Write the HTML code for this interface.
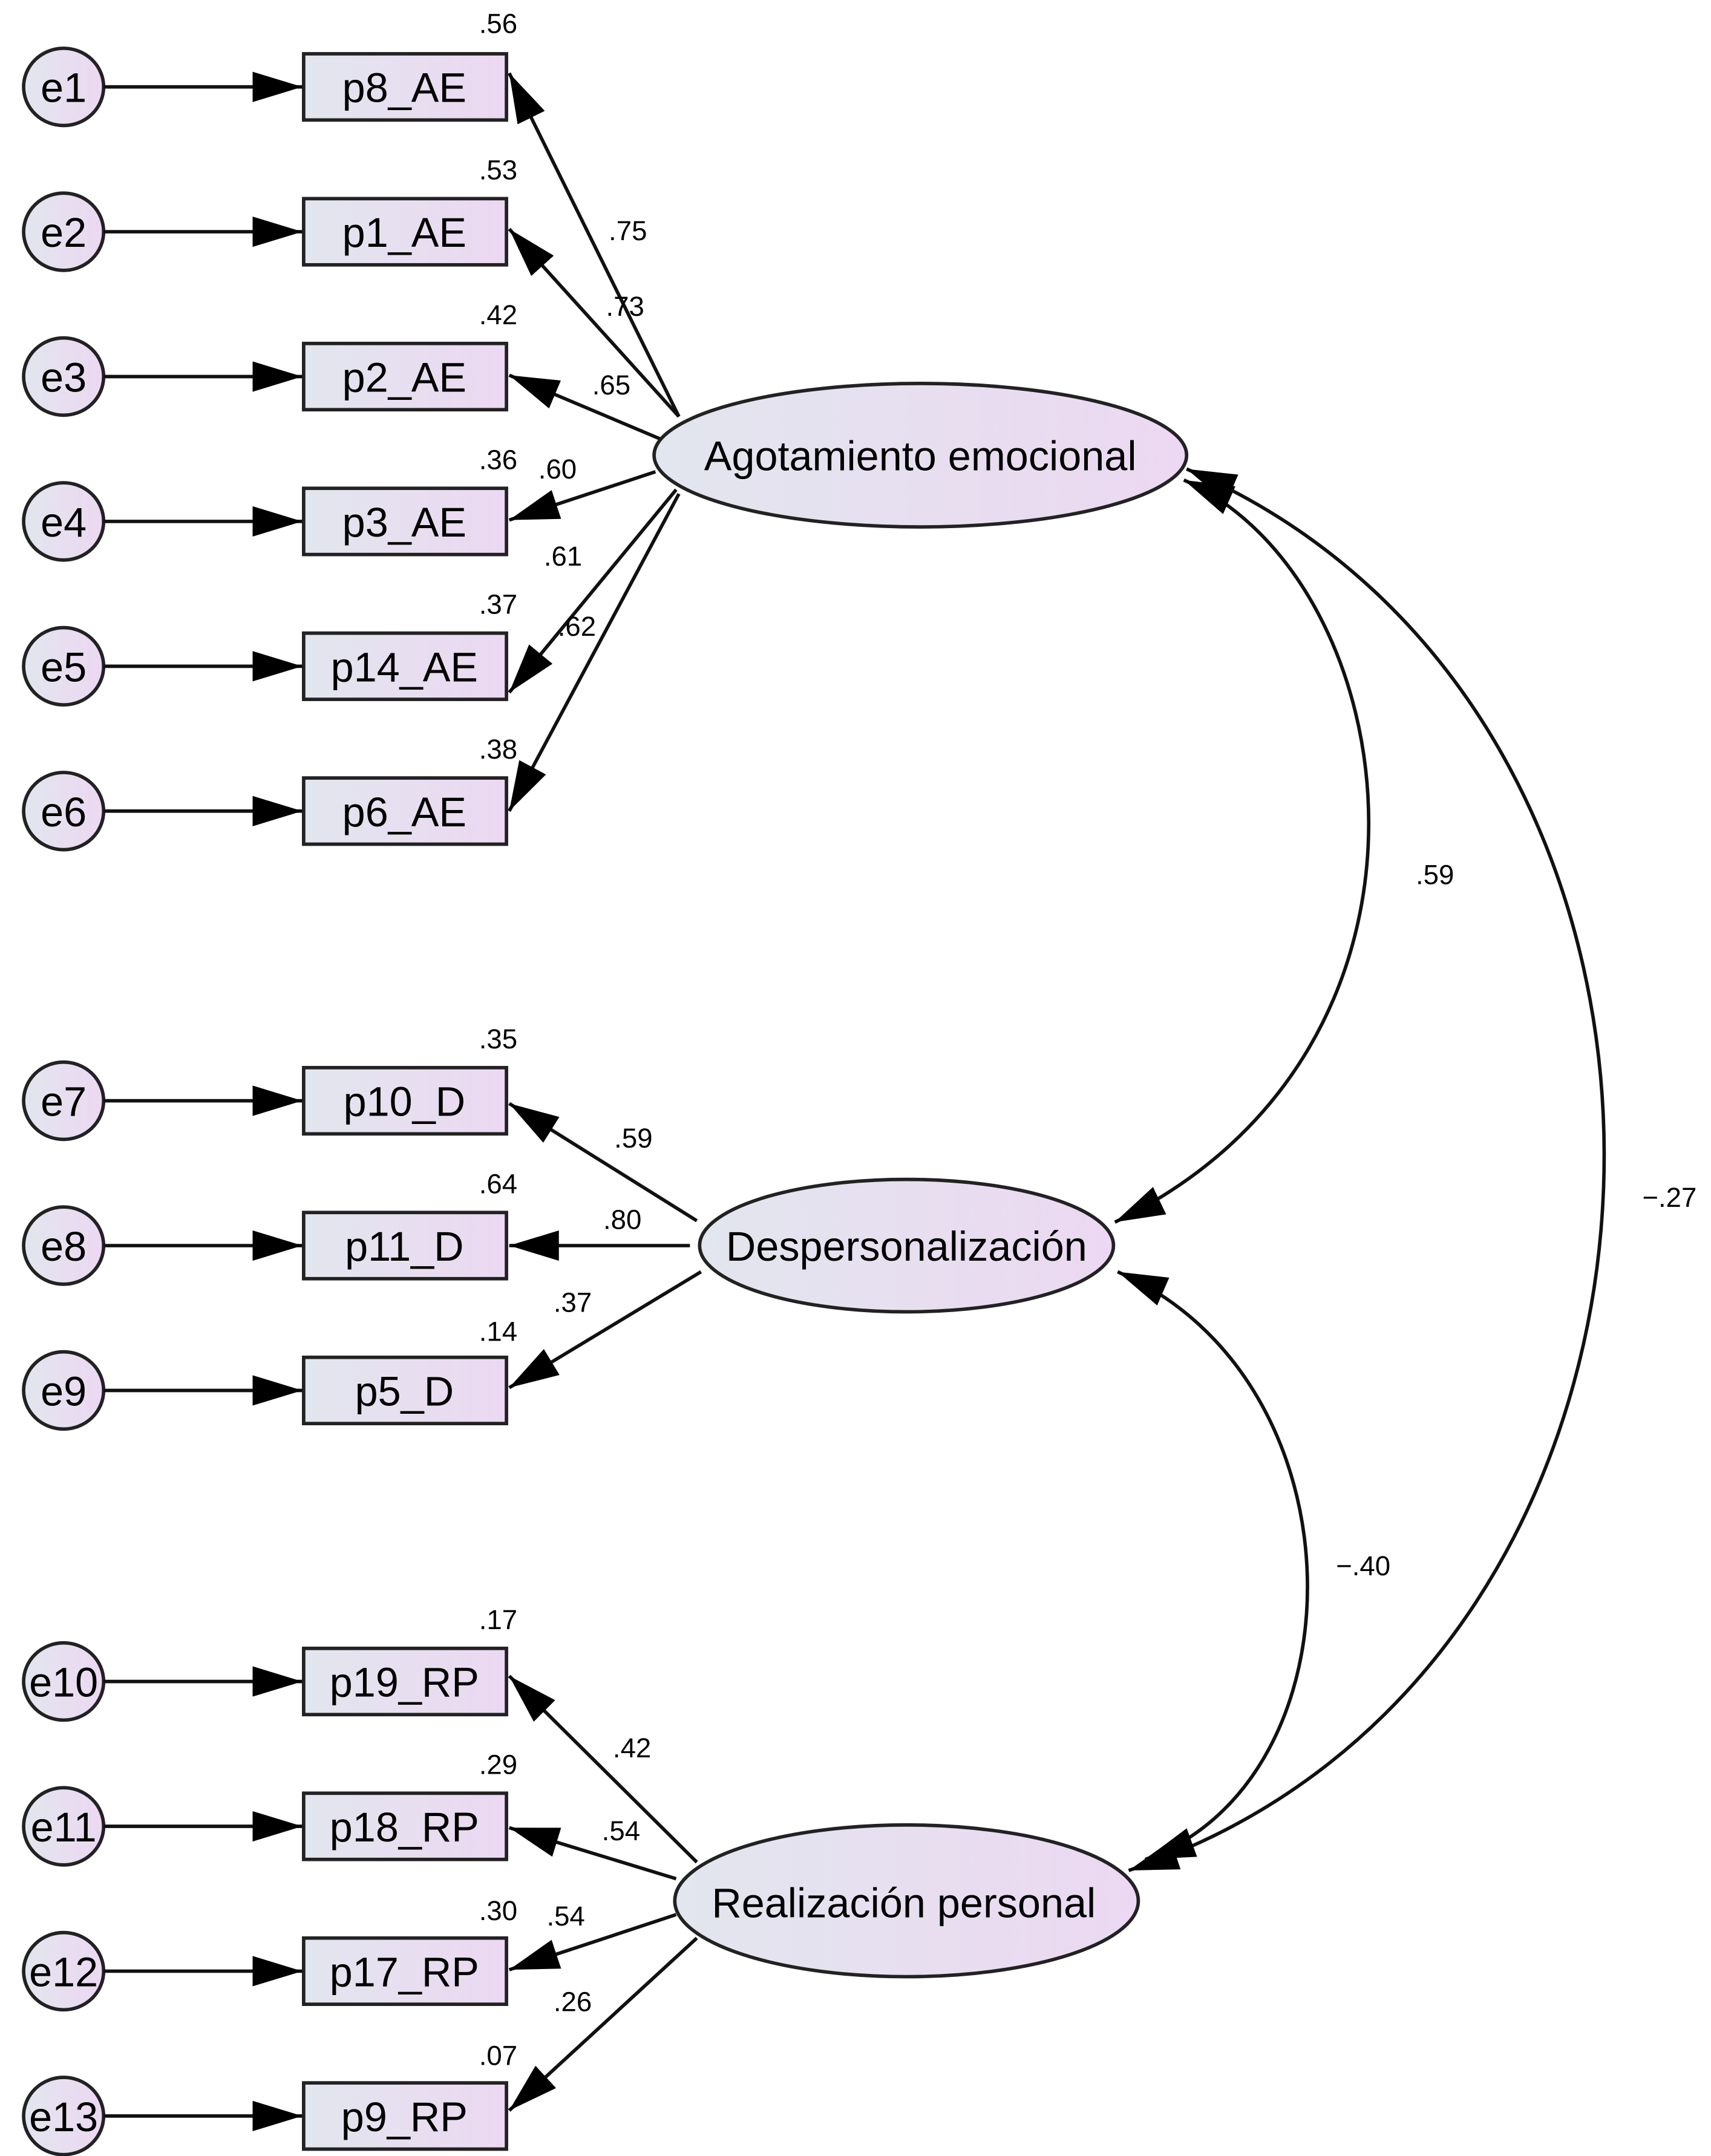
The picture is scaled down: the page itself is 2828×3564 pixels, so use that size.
<!DOCTYPE html>
<html><head><meta charset="utf-8"><style>html,body{margin:0;padding:0;background:#fff}svg{display:block}</style></head><body>
<svg xmlns="http://www.w3.org/2000/svg" width="2828" height="3564" viewBox="0 0 1240 1563">
<defs>
<linearGradient id="g" x1="0" x2="1" y1="0" y2="0"><stop offset="0" stop-color="#e2e6ee"/><stop offset="1" stop-color="#ecd8f2"/></linearGradient>
<marker id="a" markerUnits="userSpaceOnUse" markerWidth="40" markerHeight="26" refX="36" refY="11" orient="auto"><path d="M0,0 L36,11 L0,22 Z" fill="#000"/></marker>
<marker id="s" markerUnits="userSpaceOnUse" markerWidth="40" markerHeight="26" refX="0" refY="11" orient="auto"><path d="M36,0 L0,11 L36,22 Z" fill="#000"/></marker>
</defs>
<g font-family="Liberation Sans, sans-serif" fill="#000">
<g stroke="#222" stroke-width="2.5" fill="url(#g)">
<ellipse cx="46" cy="63" rx="29" ry="28"/><ellipse cx="46" cy="168" rx="29" ry="28"/><ellipse cx="46" cy="273" rx="29" ry="28"/><ellipse cx="46" cy="378" rx="29" ry="28"/><ellipse cx="46" cy="483" rx="29" ry="28"/><ellipse cx="46" cy="588" rx="29" ry="28"/>
<ellipse cx="46" cy="798" rx="29" ry="28"/><ellipse cx="46" cy="903" rx="29" ry="28"/><ellipse cx="46" cy="1008" rx="29" ry="28"/>
<ellipse cx="46" cy="1219" rx="29" ry="28"/><ellipse cx="46" cy="1324" rx="29" ry="28"/><ellipse cx="46" cy="1429" rx="29" ry="28"/><ellipse cx="46" cy="1534" rx="29" ry="28"/>
<rect x="220" y="39" width="147" height="48"/><rect x="220" y="144" width="147" height="48"/><rect x="220" y="249" width="147" height="48"/><rect x="220" y="354" width="147" height="48"/><rect x="220" y="459" width="147" height="48"/><rect x="220" y="564" width="147" height="48"/>
<rect x="220" y="774" width="147" height="48"/><rect x="220" y="879" width="147" height="48"/><rect x="220" y="984" width="147" height="48"/>
<rect x="220" y="1195" width="147" height="48"/><rect x="220" y="1300" width="147" height="48"/><rect x="220" y="1405" width="147" height="48"/><rect x="220" y="1510" width="147" height="48"/>
<ellipse cx="667" cy="330" rx="193" ry="52"/>
<ellipse cx="657" cy="903" rx="150" ry="48"/>
<ellipse cx="657" cy="1378" rx="168" ry="55"/>
</g>
<g stroke="#111" stroke-width="2.5" fill="none" marker-end="url(#a)">
<line x1="75" y1="63" x2="219" y2="63"/><line x1="75" y1="168" x2="219" y2="168"/><line x1="75" y1="273" x2="219" y2="273"/><line x1="75" y1="378" x2="219" y2="378"/><line x1="75" y1="483" x2="219" y2="483"/><line x1="75" y1="588" x2="219" y2="588"/>
<line x1="75" y1="798" x2="219" y2="798"/><line x1="75" y1="903" x2="219" y2="903"/><line x1="75" y1="1008" x2="219" y2="1008"/>
<line x1="75" y1="1219" x2="219" y2="1219"/><line x1="75" y1="1324" x2="219" y2="1324"/><line x1="75" y1="1429" x2="219" y2="1429"/><line x1="75" y1="1534" x2="219" y2="1534"/>
<line x1="492" y1="302" x2="369" y2="53"/><line x1="492" y1="302" x2="369" y2="166"/><line x1="478" y1="318" x2="369" y2="272"/><line x1="475" y1="342" x2="369" y2="377"/><line x1="490" y1="355" x2="369" y2="502"/><line x1="492" y1="358" x2="369" y2="588"/>
<line x1="505" y1="885" x2="369" y2="800"/><line x1="500" y1="903" x2="369" y2="903"/><line x1="508" y1="922" x2="369" y2="1006"/>
<line x1="505" y1="1350" x2="369" y2="1215"/><line x1="490" y1="1362" x2="369" y2="1325"/><line x1="490" y1="1388" x2="369" y2="1428"/><line x1="505" y1="1405" x2="369" y2="1530"/>
<path d="M858,348 C1020,420 1070,760 808,886" marker-start="url(#s)"/>
<path d="M860,340 C1280,520 1260,1210 818,1356" marker-start="url(#s)"/>
<path d="M810,922 C990,1000 990,1290 830,1348" marker-start="url(#s)"/>
</g>
<g font-size="30" text-anchor="middle">
<text x="46" y="74">e1</text><text x="46" y="179">e2</text><text x="46" y="284">e3</text><text x="46" y="389">e4</text><text x="46" y="494">e5</text><text x="46" y="599">e6</text>
<text x="46" y="809">e7</text><text x="46" y="914">e8</text><text x="46" y="1019">e9</text>
<text x="46" y="1230">e10</text><text x="46" y="1335">e11</text><text x="46" y="1440">e12</text><text x="46" y="1545">e13</text>
<text x="293" y="74">p8_AE</text><text x="293" y="179">p1_AE</text><text x="293" y="284">p2_AE</text><text x="293" y="389">p3_AE</text><text x="293" y="494">p14_AE</text><text x="293" y="599">p6_AE</text>
<text x="293" y="809">p10_D</text><text x="293" y="914">p11_D</text><text x="293" y="1019">p5_D</text>
<text x="293" y="1230">p19_RP</text><text x="293" y="1335">p18_RP</text><text x="293" y="1440">p17_RP</text><text x="293" y="1545">p9_RP</text>
<text x="667" y="341">Agotamiento emocional</text>
<text x="657" y="914">Despersonalización</text>
<text x="655" y="1390">Realización personal</text>
</g>
<g font-size="20" text-anchor="middle">
<text x="361" y="24">.56</text><text x="361" y="130">.53</text><text x="361" y="235">.42</text><text x="361" y="340">.36</text><text x="361" y="445">.37</text><text x="361" y="550">.38</text>
<text x="361" y="760">.35</text><text x="361" y="865">.64</text><text x="361" y="972">.14</text>
<text x="361" y="1181">.17</text><text x="361" y="1286">.29</text><text x="361" y="1392">.30</text><text x="361" y="1497">.07</text>
<text x="455" y="174">.75</text><text x="453" y="229">.73</text><text x="443" y="286">.65</text><text x="404" y="347">.60</text><text x="408" y="410">.61</text><text x="418" y="461">.62</text>
<text x="459" y="832">.59</text><text x="451" y="891">.80</text><text x="415" y="951">.37</text>
<text x="458" y="1274">.42</text><text x="450" y="1334">.54</text><text x="410" y="1396">.54</text><text x="415" y="1458">.26</text>
<text x="1040" y="641">.59</text><text x="1210" y="875">−.27</text><text x="988" y="1142">−.40</text>
</g>
</g>
</svg>
</body></html>
